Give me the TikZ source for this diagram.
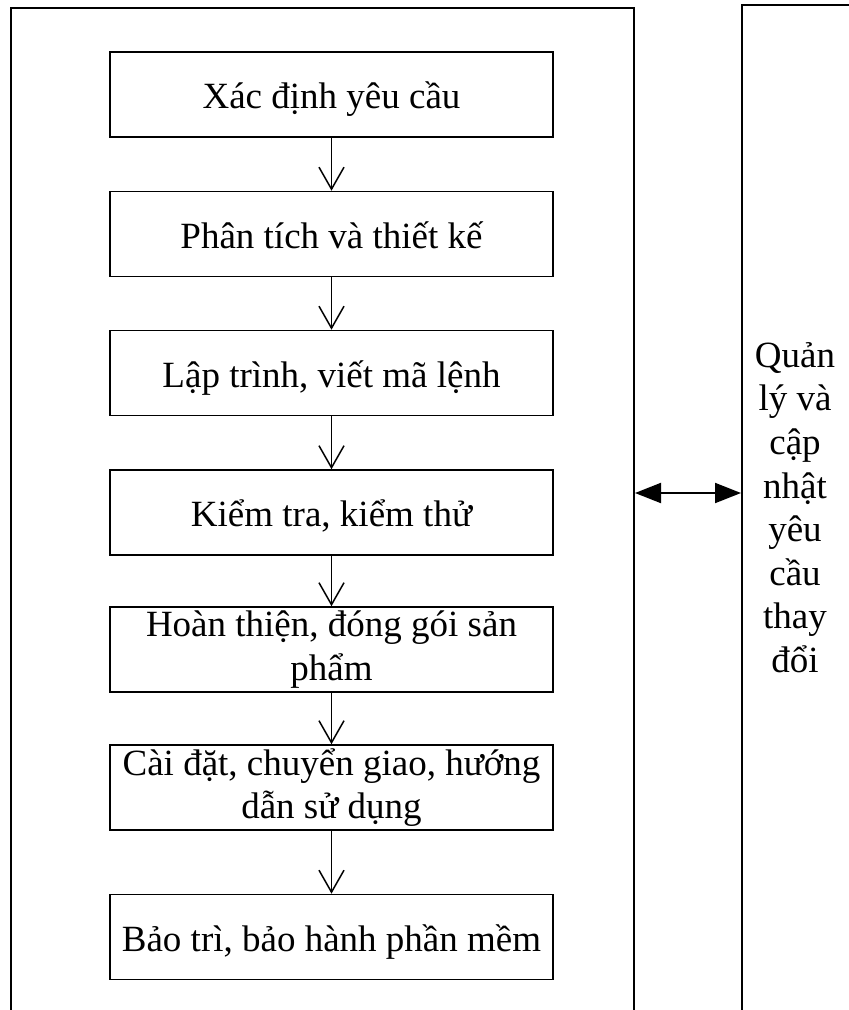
\documentclass[tikz,border=0pt]{standalone}
\usepackage{fontspec}
\setmainfont{Liberation Serif}
\usetikzlibrary{arrows.meta}
\begin{document}
\begin{tikzpicture}[x=1pt,y=-1pt,
  frame/.style={draw, line width=2pt, anchor=north west, inner sep=0pt},
  stepbox/.style={draw, line width=1.6pt, minimum width=443pt, minimum height=85pt, inner sep=0pt, align=center, font=\fontsize{37}{43.5}\selectfont},
  onebox/.style={stepbox, text height=34pt, text depth=6pt},
  varrow/.style={line width=1.5pt, -{Straight Barb[length=22pt,width=25pt,line width=1.5pt]}},
  darrow/.style={line width=2pt, {Triangle[length=26pt,width=20pt]}-{Triangle[length=26pt,width=20pt]}},
  sidetext/.style={align=center, inner sep=0pt, font=\fontsize{37}{43.6}\selectfont}]
\useasboundingbox (0,0) rectangle (849,1010);
\node[frame, minimum width=623pt, minimum height=1040pt] (lframe) at (10,7) {};
\node[frame, minimum width=140pt, minimum height=1040pt] (rframe) at (741,4) {};
\node[onebox] (b1) at (331.5,94.5) {Xác định yêu cầu};
\node[onebox] (b2) at (331.5,234) {Phân tích và thiết kế};
\node[onebox] (b3) at (331.5,373) {Lập trình, viết mã lệnh};
\node[onebox] (b4) at (331.5,512.5) {Kiểm tra, kiểm thử};
\node[stepbox] (b5) at (331.5,649.5) {Hoàn thiện, đóng gói sản\\phẩm};
\node[stepbox] (b6) at (331.5,787.5) {Cài đặt, chuyển giao, hướng\\dẫn sử dụng};
\node[onebox] (b7) at (331.5,937) {Bảo trì, bảo hành phần mềm};
\draw[varrow] (b1.south) -- (b2.north);
\draw[varrow] (b2.south) -- (b3.north);
\draw[varrow] (b3.south) -- (b4.north);
\draw[varrow] (b4.south) -- (b5.north);
\draw[varrow] (b5.south) -- (b6.north);
\draw[varrow] (b6.south) -- (b7.north);
\coordinate (mid) at (0,493);
\draw[darrow] (lframe.east |- mid) -- (rframe.west |- mid);
\node[sidetext] (side) at (795,507.5) {Quản\\lý và\\cập\\nhật\\yêu\\cầu\\thay\\đổi};
\end{tikzpicture}
\end{document}
